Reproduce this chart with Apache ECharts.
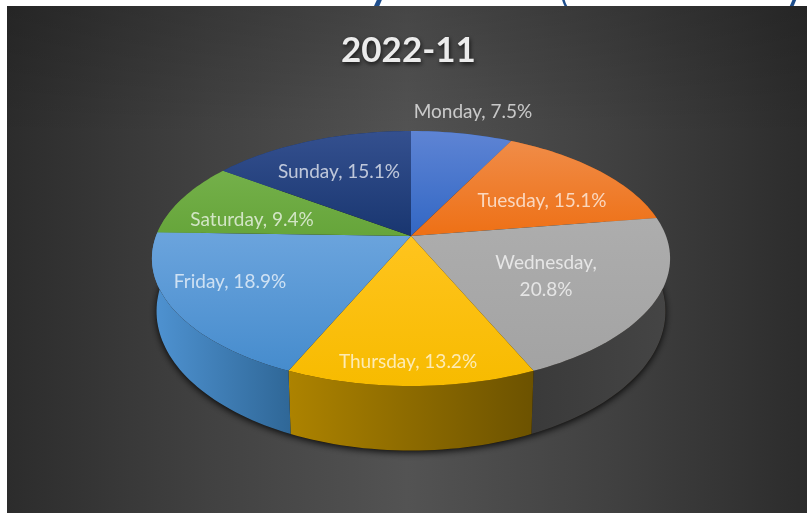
<!DOCTYPE html>
<html>
<head>
<meta charset="utf-8">
<style>html,body{margin:0;padding:0;background:#fff}#c{width:807px;height:513px}</style>
<script src="https://cdn.jsdelivr.net/npm/echarts@6/dist/echarts.min.js"></script>
</head>
<body>
<div id="c"></div>
<script>
const titleText = '2022-11';
const days = ['Monday','Tuesday','Wednesday','Thursday','Friday','Saturday','Sunday'];
const shares = [7.5,15.1,20.8,13.2,18.9,9.4,15.1];
const topLight = ['#5e84d4','#f08c48','#adadad','#ffc41e','#6ba4dd','#74b04a','#34508f'];
const topDark  = ['#3267c4','#ee7015','#a3a3a3','#f7bb00','#468ccd','#66a53a','#193670'];
const wallLeft  = ['#3267c4','#c05a10','#3a3a3a','#ad8300','#4f93d2','#5a9434','#193670'];
const wallRight = ['#24498c','#8a400b','#454545','#6c5200','#2f6797','#3f6a25','#122750'];
const labelPos = [[473,112],[542,201],[546,276],[408,362],[230,282],[252,220],[339,172]];

const total = shares.reduce((a,b)=>a+b,0);
const CX = 411, K = 0.1765;
const TOP = {rx:255, ry:123.5, cy:236};
const BASE = {rx:250.5, ry:135, cy:286.6};
function project(deg, e){
  const a = deg*Math.PI/180, u = Math.sin(a), v = Math.cos(a), w = 1 + K*v;
  return [CX + e.rx*u/w, e.cy - e.ry*v/w];
}
function arc(from, to, e){
  const n = Math.max(2, Math.ceil(Math.abs(to-from)/1.5)), pts = [];
  for(let i=0;i<=n;i++) pts.push(project(from+(to-from)*i/n, e));
  return pts;
}
function span(i){
  let s = 0;
  for(let j=0;j<i;j++) s += shares[j];
  return [s/total*360, (s+shares[i])/total*360];
}
const apex = [CX, TOP.cy];
const grad = (x2,y2,c1,c2)=>new echarts.graphic.LinearGradient(0,0,x2,y2,[{offset:0,color:c1},{offset:1,color:c2}]);

function renderShadow(){
  return {type:'polygon', shape:{points:arc(0,360,BASE)},
    style:{fill:'#1a1208', shadowBlur:7, shadowColor:'rgba(0,0,0,0.85)', shadowOffsetY:2}, silent:true};
}
function renderWall(p, api){
  const i = p.dataIndex, [a,b] = span(i);
  return {type:'polygon', shape:{points:arc(a,b,TOP).concat(arc(b,a,BASE))},
    style:{fill:grad(1,0,wallLeft[i],wallRight[i])}, silent:true};
}
function renderTop(p, api){
  const i = p.dataIndex, [a,b] = span(i);
  return {type:'polygon', shape:{points:[apex].concat(arc(a,b,TOP))},
    style:{fill:grad(0,1,topLight[i],topDark[i])}};
}
function renderLabel(p, api){
  const i = p.dataIndex, name = days[i], pct = shares[i].toFixed(1)+'%';
  const text = name.length>8 ? name+',\n'+pct : name+', '+pct;
  return {type:'text', x:labelPos[i][0], y:labelPos[i][1],
    style:{text, align:'center', verticalAlign:'middle', fill:'rgba(255,255,255,0.7)',
      font:'19px Lato', lineHeight:27}, silent:true};
}
const vals = shares.map(v=>[v]);
const chart = echarts.init(document.getElementById('c'));
chart.setOption({
  animation:false,
  backgroundColor:'#ffffff',
  title:{text:titleText,left:336,top:28,
    textStyle:{color:'#ececec',fontFamily:'Lato',fontWeight:'bold',fontSize:35,
      textShadowColor:'rgba(0,0,0,0.7)',textShadowBlur:4,textShadowOffsetX:1,textShadowOffsetY:2}},
  graphic:[
    {type:'rect',z:-10,shape:{x:7,y:6,width:800,height:507},
      style:{fill:new echarts.graphic.LinearGradient(0,0,1,0,[
        {offset:0,color:'#2c2c2c'},{offset:0.25,color:'#414141'},{offset:0.5,color:'#535353'},
        {offset:0.75,color:'#414141'},{offset:1,color:'#2c2c2c'}])}},
    {type:'rect',z:-9,shape:{x:7,y:6,width:800,height:130},
      style:{fill:new echarts.graphic.LinearGradient(0,0,0,1,[
        {offset:0,color:'rgba(0,0,0,0.16)'},{offset:1,color:'rgba(0,0,0,0)'}])}},
    {type:'text',z:-11,x:380,y:-36,style:{text:'y',font:'bold 44px Lato',fill:'#1f4e8c',align:'center'}},
    {type:'text',z:-11,x:564,y:-23,style:{text:'(',font:'32px Lato',fill:'#1f4e8c',align:'center'}},
    {type:'text',z:-11,x:795,y:-37,style:{text:'y',font:'44px Lato',fill:'#1f4e8c',align:'center'}}
  ],
  series:[
    {type:'custom',coordinateSystem:'none',z:2,data:[[1]],renderItem:renderShadow},
    {type:'custom',coordinateSystem:'none',z:3,data:vals,renderItem:renderWall},
    {type:'custom',coordinateSystem:'none',z:4,data:vals,renderItem:renderTop},
    {type:'custom',coordinateSystem:'none',z:5,data:vals,renderItem:renderLabel}
  ]
});
</script>
</body>
</html>
